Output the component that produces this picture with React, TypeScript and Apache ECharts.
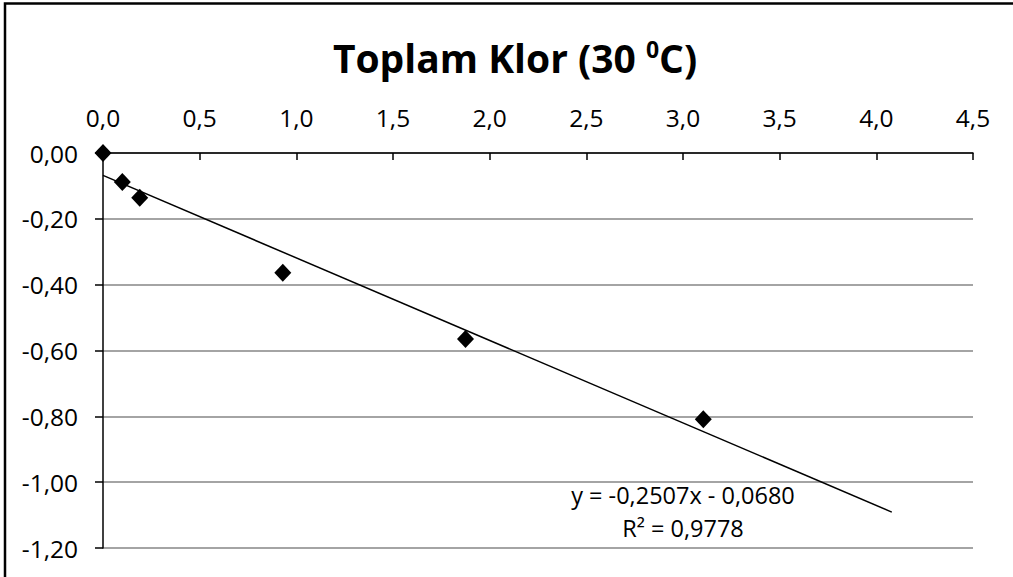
import React, { useEffect, useRef } from "react";
import * as echarts from "echarts";

const xValues = [0, 0.1, 0.19, 0.93, 1.875, 3.105];
const yValues = [0, -0.088, -0.136, -0.364, -0.565, -0.809];
const slope = -0.2507;
const intercept = -0.068;
const trendRange = [0, 4.08];
const xTicks = { min: 0, max: 4.5, interval: 0.5 };
const yTicks = { min: -1.2, max: 0, interval: 0.2 };
const titleText = "Toplam Klor (30 ";
const equationText = "y = -0,2507x - 0,0680";
const r2Text = "R² = 0,9778";

const FONT = "'Open Sans', 'Noto Sans', sans-serif";

export default function App() {
  const ref = useRef<HTMLDivElement>(null);
  useEffect(() => {
    if (!ref.current) return;
    const chart = echarts.init(ref.current, null, { renderer: "svg" });
    const points = xValues.map((x, i) => [x, yValues[i]]);
    const trend = trendRange.map((x) => [x, slope * x + intercept]);
    chart.setOption({
      animation: false,
      backgroundColor: "#ffffff",
      textStyle: { fontFamily: FONT },
      grid: { left: 103, right: 40, top: 153, bottom: 29, containLabel: false },
      xAxis: {
        type: "value",
        position: "top",
        min: xTicks.min,
        max: xTicks.max,
        interval: xTicks.interval,
        axisLine: { show: true, onZero: false, lineStyle: { color: "#000", width: 1.5 } },
        axisTick: { show: true, inside: true, length: 7, lineStyle: { color: "#000", width: 1.5 } },
        axisLabel: {
          margin: 23,
          color: "#000",
          fontSize: 24.5,
          fontFamily: FONT,
          formatter: (v: number) => v.toFixed(1).replace(".", ","),
        },
        splitLine: { show: false },
      },
      yAxis: {
        type: "value",
        min: yTicks.min,
        max: yTicks.max,
        interval: yTicks.interval,
        axisLine: { show: true, onZero: false, lineStyle: { color: "#000", width: 1.5 } },
        axisTick: { show: true, inside: false, length: 8, lineStyle: { color: "#000", width: 1.5 } },
        axisLabel: {
          margin: 25,
          color: "#000",
          fontSize: 24.5,
          fontFamily: FONT,
          formatter: (v: number) => v.toFixed(2).replace(".", ","),
        },
        splitLine: { show: true, lineStyle: { color: "#868686", width: 1.5 } },
      },
      series: [
        {
          type: "line",
          data: trend,
          symbol: "none",
          lineStyle: { color: "#000", width: 1.5 },
          silent: true,
          z: 2,
        },
        {
          type: "scatter",
          data: points,
          symbol: "diamond",
          symbolSize: [17, 18],
          itemStyle: { color: "#000", opacity: 1 },
          z: 3,
        },
      ],
      graphic: [
        {
          type: "rect",
          shape: { x: 5, y: 3.5, width: 1200, height: 800 },
          style: { fill: "none", stroke: "#000", lineWidth: 2.5 },
          silent: true,
          z: 0,
        },
        {
          type: "text",
          x: 515,
          y: 57,
          style: {
            text: "{a|" + titleText + "}{s|0}{a|C)}",
            align: "center",
            verticalAlign: "middle",
            rich: {
              a: { fontSize: 39, fontWeight: "bold", fontFamily: FONT, fill: "#000" },
              s: { fontSize: 23, fontWeight: "bold", fontFamily: FONT, fill: "#000", verticalAlign: "top", padding: [0, 0, 16, 0] },
            },
          },
        },
        {
          type: "text",
          x: 683,
          y: 495,
          style: {
            text: equationText,
            align: "center",
            verticalAlign: "middle",
            fontSize: 23.5,
            fontFamily: FONT,
            fill: "#000",
          },
        },
        {
          type: "text",
          x: 683,
          y: 528,
          style: {
            text: r2Text,
            align: "center",
            verticalAlign: "middle",
            fontSize: 23.5,
            fontFamily: FONT,
            fill: "#000",
          },
        },
      ],
    });
    return () => chart.dispose();
  }, []);
  return (
    <div
      ref={ref}
      style={{ position: "fixed", left: 0, top: 0, width: 1013, height: 577, background: "#fff" }}
    />
  );
}
